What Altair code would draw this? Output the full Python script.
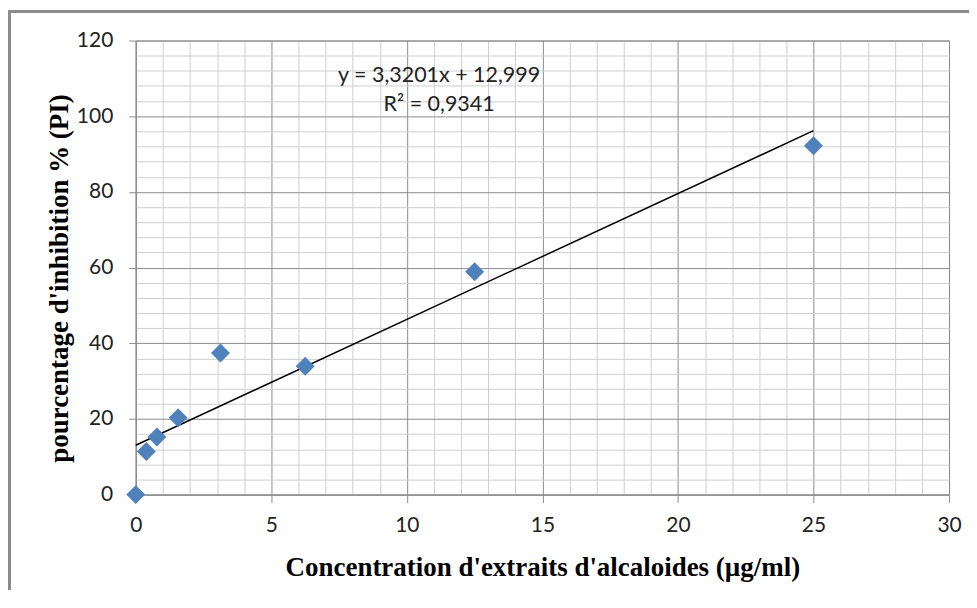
import altair as alt
import pandas as pd

# data
conc = [0, 0.390625, 0.78125, 1.5625, 3.125, 6.25, 12.5, 25]
inhib = [0, 11.4, 15.2, 20.3, 37.4, 33.9, 58.9, 92.2]
x_ticks = list(range(0, 31, 1))
y_ticks = list(range(0, 121, 4))
eq_lines = ["y = 3,3201x + 12,999", "R² = 0,9341"]

df = pd.DataFrame({"x": conc, "y": inhib})

MAJOR = "#8c8c8c"
MINOR = "#cfcfcf"

x_enc = alt.X(
    "x:Q",
    scale=alt.Scale(domain=[0, 30], nice=False),
    axis=alt.Axis(
        values=x_ticks,
        tickCount=100,
        format="d",
        labelExpr="datum.value % 5 === 0 ? datum.label : ''",
        labelOverlap=False,
        gridColor={"condition": {"test": "datum.value % 5 === 0", "value": MAJOR}, "value": MINOR},
        tickColor={"condition": {"test": "datum.value % 5 === 0", "value": MAJOR}, "value": "transparent"},
        tickSize=8,
        domainColor=MAJOR,
        labelFont="Lato",
        labelFontSize=21,
        labelColor="#222222",
        labelPadding=12,
        labelFlush=False,
        title="Concentration d'extraits d'alcaloides (µg/ml)",
        titleFont="Liberation Serif",
        titleFontSize=27,
        titleFontWeight="bold",
        titleColor="#000000",
        titleBaseline="middle",
        titleY=73,
    ),
)

y_enc = alt.Y(
    "y:Q",
    scale=alt.Scale(domain=[0, 120], nice=False),
    axis=alt.Axis(
        values=y_ticks,
        tickCount=100,
        format="d",
        labelExpr="datum.value % 20 === 0 ? datum.label : ''",
        labelOverlap=False,
        gridColor={"condition": {"test": "datum.value % 20 === 0", "value": MAJOR}, "value": MINOR},
        tickColor={"condition": {"test": "datum.value % 20 === 0", "value": MAJOR}, "value": "transparent"},
        tickSize=7,
        domainColor=MAJOR,
        labelFont="Lato",
        labelFontSize=21,
        labelColor="#222222",
        labelPadding=16,
        labelFlush=False,
        title="pourcentage d'inhibition % (PI)",
        titleFont="Liberation Serif",
        titleFontSize=27,
        titleFontWeight="bold",
        titleColor="#000000",
        titleBaseline="middle",
        titleX=-76,
        titleY=238,
    ),
)

base = alt.Chart(df)

points = base.mark_point(
    shape="diamond", filled=True, size=360, color="#4f81bd", opacity=1
).encode(x=x_enc, y=y_enc)

trend = base.transform_regression("x", "y", method="linear").mark_line(
    color="#000000", strokeWidth=1.5
).encode(x="x:Q", y="y:Q")

eq_df = pd.DataFrame({"t": eq_lines, "i": [0, 1]})
eq1 = alt.Chart(eq_df).transform_filter("datum.i === 0").mark_text(
    font="Lato", fontSize=21.5, color="#222222", align="center", baseline="middle"
).encode(text="t:N", x=alt.value(304), y=alt.value(36))
eq2 = alt.Chart(eq_df).transform_filter("datum.i === 1").mark_text(
    font="Lato", fontSize=21.5, color="#222222", align="center", baseline="middle"
).encode(text="t:N", x=alt.value(304), y=alt.value(65))

frame = alt.Chart(pd.DataFrame({"a": [0]})).mark_rect(
    fill=None, stroke="#8c8c8c", strokeWidth=3, clip=False
).encode(
    x=alt.value(-126.5), x2=alt.value(900), y=alt.value(-29), y2=alt.value(700)
)

chart = alt.layer(frame, trend, points, eq1, eq2).properties(
    width=815,
    height=455,
    autosize=alt.AutoSizeParams(type="none"),
    padding={"left": 128, "top": 32, "right": 20, "bottom": 95},
    background="white",
).configure_view(stroke=MAJOR, strokeWidth=1).configure_axis(
    gridWidth=1, domainWidth=1, tickWidth=1
)

chart.save("out.html", embed_options={"renderer": "svg", "actions": False})
